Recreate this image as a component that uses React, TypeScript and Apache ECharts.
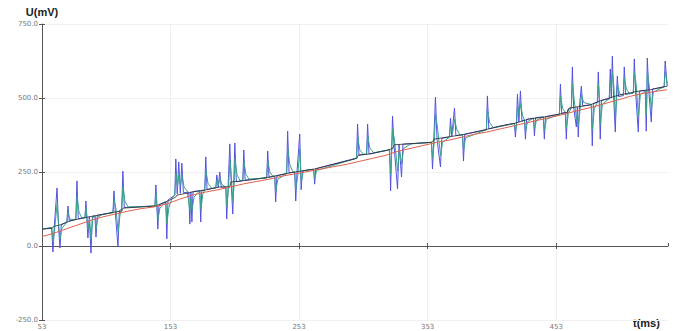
import React, { useEffect, useRef } from "react";
import * as echarts from "echarts";

// time (ms) / voltage (mV) samples
const bluePoints: [number, number][] = [
  [53, 57], [60.5, 62], [61.5, -20], [62.5, 62], [64.7, 196], [65.8, 68], [67.0, -7], [68, 72], [72.3, 80], [73.2, 135], [74.2, 84],
  [79.3, 90], [80.2, 220], [81.2, 92], [86.4, 96], [87.2, 152], [88.7, 27], [89.8, 99], [91.1, -24], [92.2, 100], [94.2, 102], [95.0, 30], [96.0, 104],
  [108.2, 113], [109.0, 186], [110.0, 116], [112.1, -3], [113.2, 120], [115.0, 124], [115.9, 253], [117, 130], [140.8, 135], [141.6, 206], [142.4, 137],
  [143.1, 57], [144, 140], [149.3, 150], [150.1, 24], [151, 155], [156.3, 172], [157.1, 294], [158.2, 176], [159.4, 284], [160.6, 178], [161.8, 280], [163, 180],
  [167.2, 182], [168.0, 74], [168.8, 183], [169.6, 81], [170.5, 184], [175.7, 187], [176.5, 81], [177.3, 188], [179.6, 189], [180.4, 301], [181.4, 191],
  [188.2, 197], [189.0, 240], [190.1, 198], [191.3, 250], [192.4, 199], [196, 199], [196.7, 91], [197.8, 205], [199.1, 345], [200.2, 212], [201.4, 108],
  [202.2, 214], [203.0, 348], [204.2, 217], [209.2, 221], [210.0, 324], [211, 223], [227.8, 230], [228.6, 321], [229.6, 232], [234.0, 236], [234.8, 149],
  [235.7, 237], [243.3, 245], [244.1, 388], [245.2, 247], [249.6, 250], [250.4, 152], [251.4, 251], [253.5, 378], [254.6, 190], [255.6, 254], [264.3, 259],
  [265.1, 209], [266, 261], [297.7, 297], [298.5, 412], [299.6, 307], [305.5, 310], [306.3, 412], [307.4, 311], [323.4, 325], [324.2, 186], [325.0, 330],
  [325.7, 439], [326.8, 342], [329.6, 193], [330.8, 343], [332.7, 233], [333.8, 344], [356, 350], [356.8, 260], [357.8, 358], [359.1, 503], [360.3, 362],
  [363.0, 267], [364, 364], [370.0, 368], [370.8, 432], [371.8, 370], [373.9, 466], [375, 373], [380.1, 376], [380.9, 287], [381.8, 378], [398.7, 393],
  [399.5, 507], [400.6, 396], [420.5, 414], [421.3, 368], [422.1, 416], [422.9, 513], [424, 418], [425.2, 524], [426.4, 422], [428.3, 426], [429.1, 361],
  [430, 428], [435.3, 432], [436.1, 372], [437, 434], [443, 436], [443.8, 361], [444.7, 437], [455.5, 445], [456.3, 547], [457.3, 448], [460.1, 452],
  [460.9, 361], [461.8, 460], [464.8, 466], [465.6, 605], [466.6, 468], [468.7, 402], [469.5, 470], [470.2, 368], [471.1, 471], [472.6, 540], [473.6, 473],
  [480.3, 478], [481.1, 338], [482, 482], [485, 485], [485.8, 588], [486.5, 489], [487.3, 361], [488.2, 492], [494.3, 497], [495.1, 598], [495.9, 500],
  [496.7, 642], [497.7, 502], [499.0, 385], [499.8, 503], [500.6, 574], [501.5, 505], [505.2, 508], [506.0, 605], [507, 512], [513, 517], [513.8, 632],
  [514.8, 520], [516.9, 385], [517.8, 523], [522.3, 526], [523.1, 388], [523.9, 635], [525, 527], [527.0, 419], [528, 530], [537, 538], [537.8, 625], [539.4, 540],
];

const greenPoints: [number, number][] = [
  [53, 57], [60.5, 62], [61.7, 13], [63, 64], [64.8, 144], [66, 68], [67.1, 24], [68.5, 60], [72.3, 80], [73.3, 114], [74.8, 90], [79.3, 90], [80.3, 168],
  [81.8, 115], [84, 94], [86.4, 96], [87.3, 130], [88.8, 55], [90, 90], [91.2, 25], [92.5, 95], [94.2, 102], [95.1, 59], [96.6, 98], [100, 106], [108.2, 113],
  [109.1, 157], [110.6, 125], [112.2, 45], [113.7, 105], [115, 124], [116, 201], [117.6, 150], [120, 132], [140.8, 135], [141.7, 178], [143.2, 89], [144.7, 128],
  [149.3, 150], [150.2, 75], [151.7, 130], [154, 160], [156.3, 172], [157.2, 246], [158.4, 200], [159.5, 241], [160.7, 205], [161.9, 239], [163.5, 200],
  [166, 185], [168.1, 117], [168.9, 160], [169.7, 122], [171.3, 165], [175.7, 187], [176.6, 123], [178.1, 175], [179.6, 189], [180.5, 256], [182.1, 212],
  [185, 195], [188.2, 197], [189.1, 223], [190.2, 205], [191.4, 229], [193, 208], [196, 199], [196.8, 134], [198, 190], [199.2, 291], [200.4, 230],
  [201.5, 150], [202.3, 200], [203.1, 295], [204.7, 240], [207, 222], [209.2, 221], [210.1, 283], [211.7, 242], [214, 226], [227.8, 230], [228.7, 285],
  [230.3, 250], [232.5, 236], [234, 236], [234.9, 184], [236.4, 225], [243.3, 245], [244.2, 331], [245.8, 275], [248, 252], [249.6, 250], [250.5, 191],
  [252, 240], [253.6, 328], [254.7, 215], [256.3, 254], [264.3, 259], [265.2, 229], [266.7, 255], [297.7, 297], [298.6, 367], [300.2, 325], [303, 310],
  [305.5, 310], [306.4, 371], [308, 332], [311, 315], [323.4, 325], [324.3, 242], [325.8, 395], [327.3, 355], [329.7, 253], [331, 330], [332.8, 277],
  [334.4, 330], [340, 345], [356, 350], [356.9, 297], [358, 345], [359.2, 445], [360.8, 395], [363.1, 305], [364.6, 350], [370, 368], [370.9, 406],
  [372.3, 380], [374, 428], [375.6, 395], [378, 376], [380.1, 376], [381, 323], [382.5, 365], [398.7, 393], [399.6, 462], [401.2, 418], [404, 400],
  [420.5, 414], [421.4, 387], [422.2, 410], [423, 474], [424.2, 440], [425.3, 482], [426.9, 440], [428.3, 426], [429.2, 387], [430.7, 420], [435.3, 432],
  [436.2, 396], [437.7, 425], [443, 436], [443.9, 391], [445.4, 428], [455.5, 445], [456.4, 507], [458, 465], [460.1, 452], [461, 399], [462.5, 448],
  [464.8, 466], [465.7, 549], [467, 495], [468.8, 428], [469.5, 450], [470.3, 408], [471.5, 455], [472.7, 512], [474.3, 485], [480.3, 478], [481.2, 394],
  [482.7, 465], [485, 485], [485.9, 547], [486.6, 510], [487.4, 412], [489, 480], [494.3, 497], [495.2, 558], [496, 530], [496.8, 585], [497.9, 540],
  [499.1, 432], [499.9, 490], [500.7, 546], [502.3, 515], [505.2, 508], [506.1, 567], [507.7, 530], [510, 514], [513, 517], [513.9, 586], [515.3, 545],
  [517, 439], [518.5, 510], [522.3, 525], [523.2, 443], [524, 591], [525.3, 545], [527.1, 462], [528.6, 520], [537, 538], [537.9, 590], [539.4, 548],
];

const blackPoints: [number, number][] = [
  [53, 57], [61, 60], [62, 66], [67, 71], [75, 85], [89, 98], [98, 105], [110, 115], [115, 118], [116, 128], [141, 135], [143, 137], [149, 148],
  [157, 165], [158, 172], [168, 180], [169, 182], [180, 189], [191, 199], [199, 200], [200, 216], [215, 223], [230, 233], [246, 247], [254, 253],
  [265, 260], [298, 296], [299, 307], [308, 311], [322, 324], [326, 330], [327, 342], [355, 350], [357, 352], [358, 361], [383, 378], [400, 395],
  [409, 405], [421, 415], [432, 429], [444, 436], [456, 446], [462, 452], [463, 466], [479, 476], [487, 490], [502, 510], [518, 524], [525, 527], [539.4, 540],
];

const redPoints: [number, number][] = [
  [53, 32], [60, 40], [70, 55], [80, 70], [90, 85], [100, 98], [110, 108], [120, 118], [130, 126], [140, 132], [150, 142], [160, 158], [170, 172],
  [180, 182], [190, 190], [200, 200], [210, 210], [220, 218], [230, 226], [240, 236], [250, 244], [260, 252], [270, 260], [280, 268], [290, 276],
  [300, 286], [310, 296], [320, 306], [330, 320], [340, 330], [350, 340], [360, 350], [370, 358], [380, 368], [390, 378], [400, 386], [410, 396],
  [420, 406], [430, 416], [440, 426], [450, 436], [460, 446], [470, 458], [480, 468], [490, 480], [500, 492], [510, 505], [520, 515], [530, 522], [539.4, 528],
];

const xMin = 53;
const xMax = 540;
const xStep = 100;
const yMin = -250;
const yMax = 750;
const yStep = 250;
const yName = "U(mV)";
const xName = "t(ms)";

export default function App() {
  const ref = useRef<HTMLDivElement>(null);
  useEffect(() => {
    if (!ref.current) return;
    const chart = echarts.init(ref.current, undefined, { renderer: "svg" });
    const labelStyle = { fontSize: 7, color: "#777", fontFamily: "DejaVu Sans" };
    const axisLineStyle = { show: true, lineStyle: { color: "#555", width: 1 } };
    const lineSeries = (name: string, data: [number, number][], color: string, width: number, z: number) => ({
      name,
      type: "line",
      data,
      showSymbol: false,
      symbol: "none",
      lineStyle: { color, width },
      itemStyle: { color },
      z,
    });
    chart.setOption({
      animation: false,
      grid: { left: 42, right: 9, top: 24, bottom: 11, containLabel: false },
      xAxis: [
        {
          type: "value",
          min: xMin,
          max: xMax,
          interval: xStep,
          position: "bottom",
          axisLine: axisLineStyle,
          axisTick: { show: true, length: 3, lineStyle: { color: "#555" } },
          axisLabel: {
            ...labelStyle,
            margin: 3,
            showMaxLabel: false,
            formatter: (v: number) => (v === xMax ? "" : String(v)),
          },
          splitLine: { show: true, showMaxLine: false, lineStyle: { color: "#eee", width: 1 } },
        },
        {
          type: "value",
          min: xMin,
          max: xMax,
          interval: xStep,
          position: "bottom",
          axisLine: { show: false },
          axisTick: { show: true, inside: true, length: 3, lineStyle: { color: "#555" } },
          axisLabel: { show: false },
          splitLine: { show: false },
        },
      ],
      yAxis: [
        {
          type: "value",
          min: yMin,
          max: yMax,
          interval: yStep,
          position: "left",
          name: yName,
          nameLocation: "end",
          nameGap: 7,
          nameTextStyle: { fontSize: 11, fontWeight: "bold", color: "#222", fontFamily: "Liberation Sans" },
          axisLine: axisLineStyle,
          axisTick: { show: true, length: 3, lineStyle: { color: "#555" } },
          axisLabel: { ...labelStyle, margin: 4, formatter: (v: number) => v.toFixed(1) },
          splitLine: { show: true, lineStyle: { color: "#f0f0f0", width: 1 } },
        },
        {
          type: "value",
          min: yMin,
          max: yMax,
          interval: yStep,
          position: "left",
          axisLine: { show: false },
          axisTick: { show: true, inside: true, length: 3, lineStyle: { color: "#555" } },
          axisLabel: { show: false },
          splitLine: { show: false },
        },
      ],
      graphic: [
        {
          type: "text",
          left: 633,
          top: 317,
          style: { text: xName, fontSize: 11, fontWeight: "bold", fill: "#222", fontFamily: "Liberation Sans" },
        },
      ],
      series: [
        lineSeries("raw", bluePoints, "#5252e0", 1, 2),
        lineSeries("filtered", greenPoints, "#3aa58a", 1, 3),
        lineSeries("hold", blackPoints, "#2a2a2a", 0.8, 4),
        lineSeries("trend", redPoints, "#e0604e", 1, 5),
      ],
    });
    return () => chart.dispose();
  }, []);
  return (
    <div
      ref={ref}
      style={{ position: "fixed", left: 0, top: 0, width: 677, height: 331, background: "#fff" }}
    />
  );
}
